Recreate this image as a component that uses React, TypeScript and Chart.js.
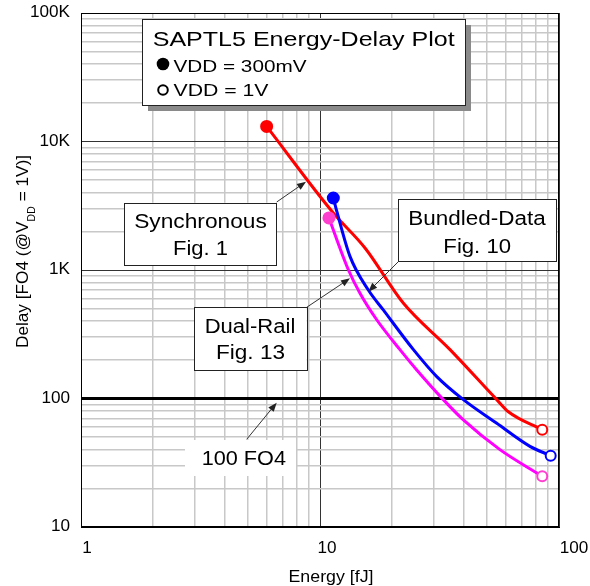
import React, { useEffect, useRef } from "react";
import { Chart, registerables } from "chart.js";

Chart.register(...registerables);

// ---------- data ----------
const syncEnergy = [5.98, 11.37, 15.43, 22.3, 35.0, 54.9, 61.4, 85.1];
const syncDelay = [13100, 2777, 1483, 553, 240, 98, 78.9, 57.2];

const bundledEnergy = [11.37, 11.81, 13.35, 15.93, 18.4, 24.6, 30.8, 39.8, 54.9, 75.6, 92.3];
const bundledDelay = [3633, 2777, 1276, 698, 489, 240, 148, 98, 64.1, 42.4, 35.9];

const dualEnergy = [10.9, 13.14, 14.7, 17.27, 21.6, 25.4, 32.8, 39.8, 56.6, 85.1];
const dualDelay = [2541, 1005, 659, 410, 240, 166.7, 98, 68.1, 40.0, 24.8];

const refEnergy = [1, 100];
const refDelay = [100, 100];

const xGridValues = [1, 2, 3, 4, 5, 6, 7, 8, 9, 10, 20, 30, 40, 50, 60, 70, 80, 90, 100];
const yGridValues = [
  10, 20, 30, 40, 50, 60, 70, 80, 90,
  100, 200, 300, 400, 500, 600, 700, 800, 900,
  1000, 2000, 3000, 4000, 5000, 6000, 7000, 8000, 9000,
  10000, 20000, 30000, 40000, 50000, 60000, 70000, 80000, 90000, 100000,
];
const xLabelValues = [1, 10, 100];
const xLabelTexts = ["1", "10", "100"];
const yLabelValues = [10, 100, 1000, 10000, 100000];
const yLabelTexts = ["10", "100", "1K", "10K", "100K"];

const FONT = '"Liberation Sans", Arial, sans-serif';
const RED = "#ff0000";
const BLUE = "#0000ff";
const MAGENTA = "#ff00ff";
const PINK = "#ff3fcf";

const zip = (xs: number[], ys: number[]) => xs.map((x, i) => ({ x, y: ys[i] }));
const isDecade = (v: number) => Math.abs(Math.log10(v) - Math.round(Math.log10(v))) < 1e-9;

function drawTextW(ctx: CanvasRenderingContext2D, text: string, x: number, y: number, size: number, targetW: number, align: "left" | "center" | "right") {
  ctx.save();
  ctx.font = `${size}px ${FONT}`;
  const w = ctx.measureText(text).width;
  const s = targetW / w;
  const x0 = align === "left" ? x : align === "center" ? x - targetW / 2 : x - targetW;
  ctx.translate(x0, y);
  ctx.scale(s, 1);
  ctx.textAlign = "left";
  ctx.textBaseline = "alphabetic";
  ctx.fillStyle = "#000";
  ctx.fillText(text, 0, 0);
  ctx.restore();
}

function drawTextS(ctx: CanvasRenderingContext2D, text: string, x: number, y: number, size: number, sx: number, align: "left" | "center" | "right") {
  ctx.save();
  ctx.font = `${size}px ${FONT}`;
  const w = ctx.measureText(text).width * sx;
  drawTextW(ctx, text, x, y, size, w, align);
  ctx.restore();
}

function arrow(ctx: CanvasRenderingContext2D, x1: number, y1: number, x2: number, y2: number) {
  const ang = Math.atan2(y2 - y1, x2 - x1);
  const len = 9;
  const hw = 3.5;
  ctx.save();
  ctx.strokeStyle = "#333";
  ctx.fillStyle = "#222";
  ctx.lineWidth = 1;
  ctx.beginPath();
  ctx.moveTo(x1, y1);
  ctx.lineTo(x2 - Math.cos(ang) * len * 0.8, y2 - Math.sin(ang) * len * 0.8);
  ctx.stroke();
  ctx.beginPath();
  ctx.moveTo(x2, y2);
  ctx.lineTo(x2 - Math.cos(ang) * len - Math.sin(ang) * hw, y2 - Math.sin(ang) * len + Math.cos(ang) * hw);
  ctx.lineTo(x2 - Math.cos(ang) * len + Math.sin(ang) * hw, y2 - Math.sin(ang) * len - Math.cos(ang) * hw);
  ctx.closePath();
  ctx.fill();
  ctx.restore();
}

function box(ctx: CanvasRenderingContext2D, l: number, t: number, r: number, b: number, border: boolean) {
  ctx.save();
  ctx.fillStyle = "#fff";
  ctx.fillRect(l, t, r - l, b - t);
  if (border) {
    ctx.strokeStyle = "#222";
    ctx.lineWidth = 1;
    ctx.strokeRect(Math.round(l) + 0.5, Math.round(t) + 0.5, Math.round(r - l), Math.round(b - t));
  }
  ctx.restore();
}

const decorPlugin = {
  id: "decor",
  afterDatasetsDraw(chart: any) {
    const ctx: CanvasRenderingContext2D = chart.ctx;
    const { left, top, right, bottom } = chart.chartArea;
    ctx.save();
    ctx.strokeStyle = "#000";
    ctx.lineWidth = 1;
    ctx.strokeRect(Math.round(left) + 0.5, Math.round(top) + 0.5, Math.round(right - left) - 1, Math.round(bottom - top) - 1);
    ctx.restore();
  },
  afterDraw(chart: any) {
    const ctx: CanvasRenderingContext2D = chart.ctx;
    const xs = chart.scales.x;
    const ys = chart.scales.y;

    // tick labels
    const xOffsets = [6, 7, 15];
    xLabelValues.forEach((v, i) => {
      drawTextS(ctx, xLabelTexts[i], xs.getPixelForValue(v) + xOffsets[i], 553, 16, 1.07, "center");
    });
    yLabelValues.forEach((v, i) => {
      drawTextS(ctx, yLabelTexts[i], 70, ys.getPixelForValue(v) + 4, 16, 1.07, "right");
    });

    // axis titles
    drawTextW(ctx, "Energy [fJ]", 331, 582, 16, 85, "center");
    ctx.save();
    ctx.translate(28, 348);
    ctx.rotate(-Math.PI / 2);
    ctx.fillStyle = "#000";
    ctx.textBaseline = "alphabetic";
    ctx.textAlign = "left";
    ctx.font = `16px ${FONT}`;
    const p1 = "Delay [FO4 (@V";
    const p3 = " = 1V)]";
    const w1 = ctx.measureText(p1).width;
    const w3 = ctx.measureText(p3).width;
    ctx.font = `10px ${FONT}`;
    const w2 = ctx.measureText("DD").width;
    const s = 193 / (w1 + w2 + w3);
    ctx.scale(s, 1);
    ctx.font = `16px ${FONT}`;
    ctx.fillText(p1, 0, 0);
    ctx.font = `10px ${FONT}`;
    ctx.fillText("DD", w1, 7);
    ctx.font = `16px ${FONT}`;
    ctx.fillText(p3, w1 + w2, 0);
    ctx.restore();

    // legend box
    ctx.save();
    ctx.fillStyle = "#8a8a8a";
    ctx.fillRect(148, 25, 323, 86);
    ctx.restore();
    box(ctx, 142, 19, 465, 105, true);
    drawTextW(ctx, "SAPTL5 Energy-Delay Plot", 152.7, 46, 21, 302, "left");
    ctx.save();
    ctx.fillStyle = "#000";
    ctx.beginPath();
    ctx.arc(163, 64, 6.3, 0, Math.PI * 2);
    ctx.fill();
    ctx.strokeStyle = "#000";
    ctx.lineWidth = 2;
    ctx.beginPath();
    ctx.arc(163, 90, 4.8, 0, Math.PI * 2);
    ctx.stroke();
    ctx.restore();
    drawTextW(ctx, "VDD = 300mV", 173.5, 71.7, 17, 133, "left");
    drawTextW(ctx, "VDD = 1V", 173.5, 96, 17, 95, "left");

    // callouts
    const px = (e: number) => xs.getPixelForValue(e);
    const py = (d: number) => ys.getPixelForValue(d);

    box(ctx, 124.3, 202.7, 276.7, 265, true);
    drawTextW(ctx, "Synchronous", 200.5, 227.7, 20, 132.7, "center");
    drawTextW(ctx, "Fig. 1", 200.5, 255, 20, 55, "center");
    arrow(ctx, 276.7, 202, px(8.74), py(4866));

    box(ctx, 194, 307.3, 306.7, 370, true);
    drawTextW(ctx, "Dual-Rail", 250, 332.7, 20, 90.7, "center");
    drawTextW(ctx, "Fig. 13", 250.5, 359, 20, 69, "center");
    arrow(ctx, 306.7, 307.3, px(13.35), py(861));

    box(ctx, 398.3, 199.3, 556.7, 261.7, true);
    drawTextW(ctx, "Bundled-Data", 477, 225, 20, 137.3, "center");
    drawTextW(ctx, "Fig. 10", 477.2, 252.7, 20, 67.7, "center");
    arrow(ctx, 398.3, 261.7, px(15.93), py(678));

    box(ctx, 185, 440, 296, 476, false);
    drawTextW(ctx, "100 FO4", 201.7, 465, 20, 84.3, "left");
    arrow(ctx, 246.7, 439.3, px(6.59), py(92.8));
  },
};

function seriesStyle(color: string, markerColor: string, n: number, order: number) {
  return {
    borderColor: color,
    backgroundColor: color,
    borderWidth: 3,
    cubicInterpolationMode: "monotone",
    order,
    pointRadius: (c: any) => (c.dataIndex === 0 ? 5.5 : c.dataIndex === n - 1 ? 5 : 0),
    pointBorderWidth: 2,
    pointBorderColor: markerColor,
    pointBackgroundColor: (c: any) => (c.dataIndex === 0 ? markerColor : "#ffffff"),
  };
}

export default function App() {
  const ref = useRef<HTMLCanvasElement | null>(null);
  useEffect(() => {
    if (!ref.current) return;
    const chart = new Chart(ref.current, {
      type: "line",
      data: {
        datasets: [
          {
            data: zip(refEnergy, refDelay),
            borderColor: "#000",
            borderWidth: 3,
            pointRadius: 0,
            order: 10,
          } as any,
          { data: zip(syncEnergy, syncDelay), ...seriesStyle(RED, RED, syncEnergy.length, 3) } as any,
          { data: zip(bundledEnergy, bundledDelay), ...seriesStyle(BLUE, BLUE, bundledEnergy.length, 2) } as any,
          { data: zip(dualEnergy, dualDelay), ...seriesStyle(MAGENTA, PINK, dualEnergy.length, 1) } as any,
        ],
      },
      options: {
        responsive: false,
        animation: false,
        events: [],
        layout: { padding: { left: 81, right: 31, top: 13, bottom: 59 } },
        plugins: { legend: { display: false }, tooltip: { enabled: false } },
        scales: {
          x: {
            type: "logarithmic",
            min: 1,
            max: 100,
            afterBuildTicks: (s: any) => {
              s.ticks = xGridValues.map((v) => ({ value: v }));
            },
            afterFit: (s: any) => {
              s.height = 0;
            },
            ticks: { display: false },
            grid: {
              drawTicks: false,
              color: (c: any) => (c.tick && isDecade(c.tick.value) ? "#333333" : "#c8c8c8"),
              lineWidth: (c: any) => (c.tick && isDecade(c.tick.value) ? 1 : 1.5),
            },
            border: { display: true, color: "#000", width: 1 },
            title: { display: false },
          },
          y: {
            type: "logarithmic",
            min: 10,
            max: 100000,
            afterBuildTicks: (s: any) => {
              s.ticks = yGridValues.map((v) => ({ value: v }));
            },
            afterFit: (s: any) => {
              s.width = 0;
            },
            ticks: { display: false },
            grid: {
              drawTicks: false,
              color: (c: any) => (c.tick && isDecade(c.tick.value) ? "#333333" : "#c8c8c8"),
              lineWidth: (c: any) => (c.tick && isDecade(c.tick.value) ? 1 : 1.5),
            },
            border: { display: true, color: "#000", width: 1 },
            title: { display: false },
          },
        },
      },
      plugins: [decorPlugin],
    });
    return () => chart.destroy();
  }, []);

  return (
    <div style={{ position: "absolute", left: 0, top: 0, width: 590, height: 586, background: "#fff" }}>
      <canvas ref={ref} width={590} height={586} style={{ width: 590, height: 586, display: "block" }} />
    </div>
  );
}
